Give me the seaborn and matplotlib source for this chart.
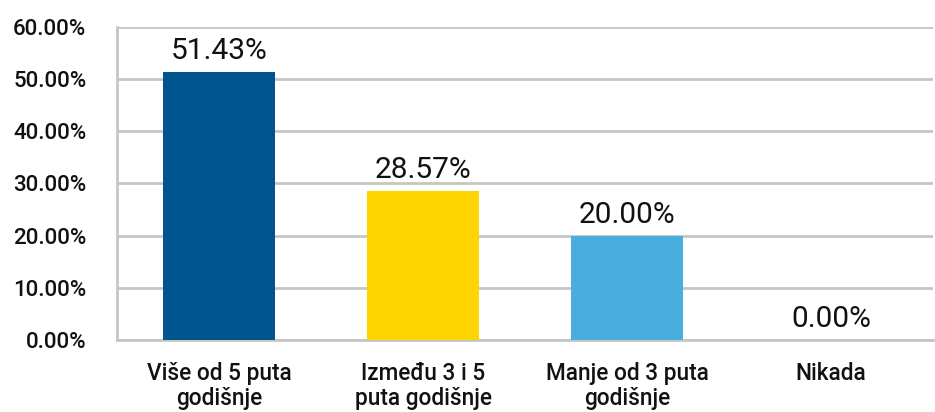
import pandas as pd
import numpy as np
import matplotlib.pyplot as plt
import seaborn as sns

# chart data
categories = ["Više od 5 puta\ngodišnje", "Između 3 i 5\nputa godišnje",
              "Manje od 3 puta\ngodišnje", "Nikada"]
shares = [51.43, 28.57, 20.00, 0.00]
bar_colors = ["#00558F", "#FFD500", "#4AADE0", "#FFFFFF"]
y_ticks = [0, 10, 20, 30, 40, 50, 60]

df = pd.DataFrame({"category": categories, "share": shares})

sns.set_style("white")
plt.rcParams["font.family"] = ["Roboto", "DejaVu Sans"]

grid_color = "#C6C6C6"
text_color = "#111111"

fig = plt.figure(figsize=(9.35, 4.12), dpi=100)
ax = fig.add_axes([0.1251, 0.1748, 0.8729, 0.7597])

sns.barplot(data=df, x="category", y="share", hue="category",
            palette=bar_colors, legend=False, width=0.55,
            saturation=1, linewidth=0, ax=ax, zorder=3)

# value labels above bars
for container in ax.containers:
    ax.bar_label(container, labels=[f"{v:.2f}%" for v in container.datavalues],
                 padding=5, fontsize=21.5, color=text_color)

ax.set_ylim(0, 60)
ax.set_yticks(y_ticks)
ax.set_yticklabels([f"{t:.2f}%" for t in y_ticks], fontsize=16,
                   fontweight=500, color=text_color)
ax.set_xlim(-0.5, 3.5)
ax.set_xticks(range(len(categories)))
ax.set_xticklabels(categories, fontsize=16.3, fontweight=500,
                   color=text_color, linespacing=1.12)
ax.set_xticks(np.arange(-0.5, 4.0, 1.0), minor=True)

ax.tick_params(axis="x", which="major", length=0, pad=16)
ax.tick_params(axis="x", which="minor", length=8, width=2, color=grid_color)
ax.tick_params(axis="y", length=7, width=2, color=grid_color, pad=15)

ax.yaxis.grid(True, color=grid_color, linewidth=2, zorder=0)
ax.set_axisbelow(True)
ax.set_xlabel("")
ax.set_ylabel("")

for side in ["top", "right"]:
    ax.spines[side].set_visible(False)
for side in ["left", "bottom"]:
    ax.spines[side].set_color(grid_color)
    ax.spines[side].set_linewidth(2)

fig.savefig("out.png", dpi=100)
